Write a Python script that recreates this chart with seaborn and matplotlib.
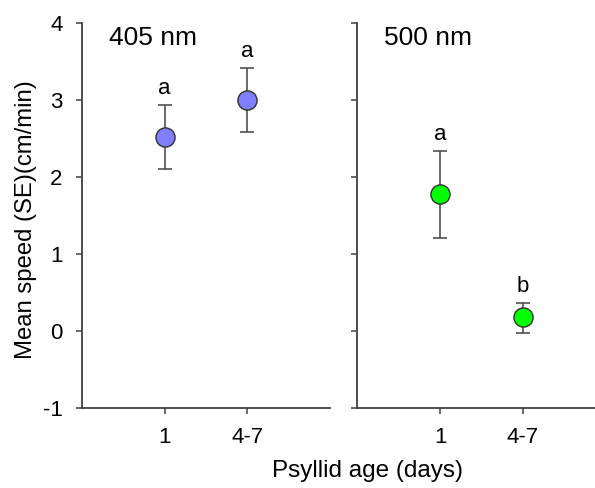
import numpy as np
import pandas as pd
import matplotlib
matplotlib.use("Agg")
import matplotlib.pyplot as plt
import seaborn as sns

# Data
ages = ["1", "4-7"]
panels = ["405 nm", "500 nm"]
means_405 = [2.52, 3.00]
lower_405 = [2.10, 2.58]
upper_405 = [2.94, 3.42]
means_500 = [1.78, 0.18]
lower_500 = [1.21, -0.03]
upper_500 = [2.34, 0.37]
letters_405 = ["a", "a"]
letters_500 = ["a", "b"]
colors = ["#7f7fff", "#00ff00"]

sns.set_style("ticks")
plt.rcParams["font.family"] = ["Liberation Sans", "DejaVu Sans"]
plt.rcParams["axes.unicode_minus"] = False
plt.rcParams["text.color"] = "black"
plt.rcParams["axes.labelcolor"] = "black"

fig = plt.figure(figsize=(5.95, 4.88), dpi=100)
ax_left = fig.add_axes([82 / 595, 80 / 488, 248 / 595, 385 / 488])
ax_right = fig.add_axes([357 / 595, 80 / 488, 249 / 595, 385 / 488])

axis_color = "#404040"
datasets = [
    (ax_left, means_405, lower_405, upper_405, letters_405, colors[0], panels[0]),
    (ax_right, means_500, lower_500, upper_500, letters_500, colors[1], panels[1]),
]

for ax, means, lower, upper, letters, color, label in datasets:
    df = pd.DataFrame({"x": [1, 2], "mean": means, "lo": lower, "hi": upper})
    # error bars
    ax.errorbar(df["x"], df["mean"],
                yerr=[df["mean"] - df["lo"], df["hi"] - df["mean"]],
                fmt="none", ecolor="#505050", elinewidth=1.2, capsize=5, capthick=1.2, zorder=2)
    # points
    sns.scatterplot(data=df, x="x", y="mean", ax=ax, color=color, s=190,
                    edgecolor="#303030", linewidth=1.0, zorder=3, legend=False)
    # significance letters
    for xi, hi, let in zip(df["x"], df["hi"], letters):
        ax.text(xi, hi + 0.07, let, ha="center", va="bottom", fontsize=16, color="black")

    ax.text(0.33, 3.8, label, ha="left", va="center", fontsize=19, color="black")

    ax.set_xlim(0, 3)
    ax.set_ylim(-1, 4)
    ax.set_xticks([1, 2])
    ax.set_xticklabels(ages)
    ax.set_yticks([-1, 0, 1, 2, 3, 4])
    ax.set_xlabel("")
    ax.set_ylabel("")
    for side in ["top", "right"]:
        ax.spines[side].set_visible(False)
    for side in ["left", "bottom"]:
        ax.spines[side].set_color(axis_color)
        ax.spines[side].set_linewidth(1.3)
    ax.tick_params(colors=axis_color, labelcolor="black", labelsize=16,
                   length=4, width=1.1, direction="out", pad=10)

ax_right.tick_params(axis="y", labelleft=False)
ax_left.set_ylabel("Mean speed (SE)(cm/min)", fontsize=17.2, color="black")
ax_left.yaxis.set_label_coords(-0.183, 0.49)
fig.text(367 / 595, 1 - 471 / 488, "Psyllid age (days)", ha="center", va="center",
         fontsize=17.5, color="black")

plt.savefig("out.png", dpi=100)
